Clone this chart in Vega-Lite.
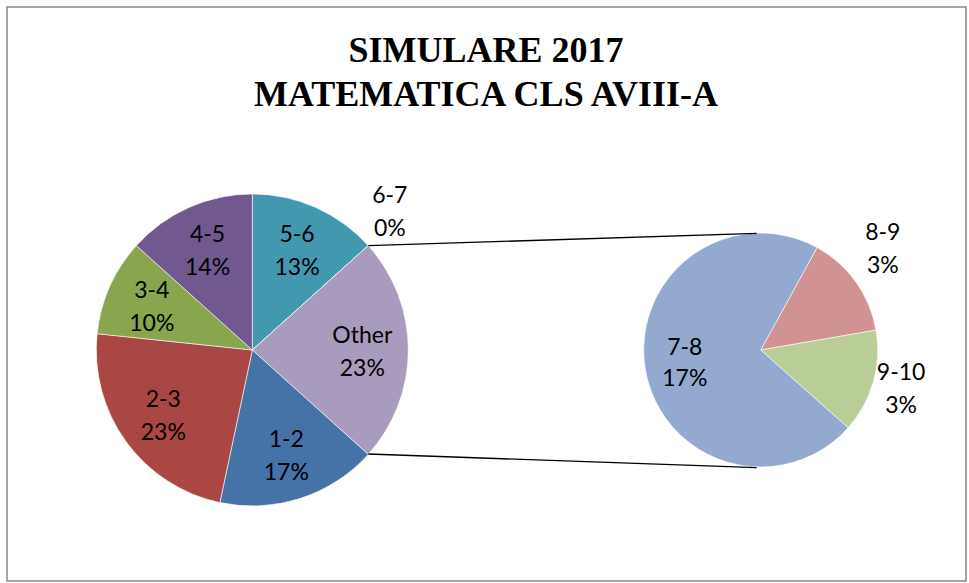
{
  "$schema": "https://vega.github.io/schema/vega-lite/v6.json",
  "width": 959,
  "height": 574,
  "padding": {"left": 7, "top": 7, "right": 3, "bottom": 2},
  "autosize": {"type": "none"},
  "background": "white",
  "config": {
    "view": {"stroke": "#898989", "strokeWidth": 1.5},
    "text": {"font": "Lato", "fontSize": 23, "color": "#000000"}
  },
  "datasets": {
    "slices": [
      {"pie": "main", "range": "5-6", "value": 4, "pct": "13%"},
      {"pie": "main", "range": "6-7", "value": 0, "pct": "0%"},
      {"pie": "main", "range": "Other", "value": 7, "pct": "23%"},
      {"pie": "main", "range": "1-2", "value": 5, "pct": "17%"},
      {"pie": "main", "range": "2-3", "value": 7, "pct": "23%"},
      {"pie": "main", "range": "3-4", "value": 3, "pct": "10%"},
      {"pie": "main", "range": "4-5", "value": 4, "pct": "14%"},
      {"pie": "sub", "range": "8-9", "value": 1, "pct": "3%"},
      {"pie": "sub", "range": "9-10", "value": 1, "pct": "3%"},
      {"pie": "sub", "range": "7-8", "value": 5, "pct": "17%"}
    ],
    "one": [{"k": 1}]
  },
  "resolve": {"scale": {"theta": "independent"}},
  "layer": [
    {
      "data": {"name": "slices"},
      "transform": [{"window": [{"op": "row_number", "as": "idx"}]}, {"filter": "datum.pie === 'main'"}],
      "mark": {"type": "arc", "outerRadius": 156, "stroke": "#ffffff", "strokeWidth": 0.6},
      "encoding": {
        "x": {"datum": 245.3, "scale": {"domain": [0, 959], "nice": false, "zero": false}, "axis": null},
        "y": {"datum": 343, "scale": {"domain": [0, 574], "nice": false, "zero": false, "reverse": true}, "axis": null},
        "theta": {"field": "value", "type": "quantitative", "stack": true},
        "order": {"field": "idx", "type": "quantitative"},
        "color": {"field": "range", "type": "nominal", "legend": null,
          "scale": {"domain": ["1-2", "2-3", "3-4", "4-5", "5-6", "6-7", "Other", "7-8", "8-9", "9-10"],
                    "range": ["#4572A7", "#AA4643", "#89A54E", "#71588F", "#4198AF", "#DB843D", "#A99BBD", "#93A9CF", "#D19392", "#B9CD96"]}}
      }
    },
    {
      "data": {"name": "slices"},
      "transform": [{"window": [{"op": "row_number", "as": "idx"}]}, {"filter": "datum.pie === 'sub'"}],
      "mark": {"type": "arc", "outerRadius": 117, "stroke": "#ffffff", "strokeWidth": 0.6},
      "encoding": {
        "x": {"datum": 753.7, "scale": {"domain": [0, 959], "nice": false, "zero": false}, "axis": null},
        "y": {"datum": 343, "scale": {"domain": [0, 574], "nice": false, "zero": false, "reverse": true}, "axis": null},
        "theta": {"field": "value", "type": "quantitative", "stack": true, "scale": {"range": [0.5027, 6.7859]}},
        "order": {"field": "idx", "type": "quantitative"},
        "color": {"field": "range", "type": "nominal", "legend": null}
      }
    },
    {
      "data": {"name": "one"},
      "mark": {"type": "rule", "color": "#000000", "strokeWidth": 1.3},
      "encoding": {
        "x": {"datum": 361.3}, "y": {"datum": 238.7},
        "x2": {"datum": 749.7}, "y2": {"datum": 226.3}
      }
    },
    {
      "data": {"name": "one"},
      "mark": {"type": "rule", "color": "#000000", "strokeWidth": 1.3},
      "encoding": {
        "x": {"datum": 361.3}, "y": {"datum": 447},
        "x2": {"datum": 749.7}, "y2": {"datum": 460.7}
      }
    },
    {
      "data": {"name": "slices"},
      "transform": [{"window": [{"op": "row_number", "as": "idx"}]}, {"filter": "datum.pie === 'main'"}],
      "mark": {"type": "text", "radius": 110, "dy": -14.5},
      "encoding": {
        "x": {"datum": 245.3}, "y": {"datum": 343},
        "theta": {"field": "value", "type": "quantitative", "stack": true},
        "order": {"field": "idx", "type": "quantitative"},
        "text": {"condition": {"test": "datum.range !== '6-7'", "field": "range", "type": "nominal"}, "value": ""}
      }
    },
    {
      "data": {"name": "slices"},
      "transform": [{"window": [{"op": "row_number", "as": "idx"}]}, {"filter": "datum.pie === 'main'"}],
      "mark": {"type": "text", "radius": 110, "dy": 18.5},
      "encoding": {
        "x": {"datum": 245.3}, "y": {"datum": 343},
        "theta": {"field": "value", "type": "quantitative", "stack": true},
        "order": {"field": "idx", "type": "quantitative"},
        "text": {"condition": {"test": "datum.range !== '6-7'", "field": "pct", "type": "nominal"}, "value": ""}
      }
    },
    {
      "data": {"name": "slices"},
      "transform": [{"window": [{"op": "row_number", "as": "idx"}]}, {"filter": "datum.pie === 'main'"}],
      "mark": {"type": "text", "radius": 185, "dy": -30},
      "encoding": {
        "x": {"datum": 245.3}, "y": {"datum": 343},
        "theta": {"field": "value", "type": "quantitative", "stack": true},
        "order": {"field": "idx", "type": "quantitative"},
        "text": {"condition": {"test": "datum.range === '6-7'", "field": "range", "type": "nominal"}, "value": ""}
      }
    },
    {
      "data": {"name": "slices"},
      "transform": [{"window": [{"op": "row_number", "as": "idx"}]}, {"filter": "datum.pie === 'main'"}],
      "mark": {"type": "text", "radius": 185, "dy": 3},
      "encoding": {
        "x": {"datum": 245.3}, "y": {"datum": 343},
        "theta": {"field": "value", "type": "quantitative", "stack": true},
        "order": {"field": "idx", "type": "quantitative"},
        "text": {"condition": {"test": "datum.range === '6-7'", "field": "pct", "type": "nominal"}, "value": ""}
      }
    },
    {
      "data": {"name": "slices"},
      "transform": [{"window": [{"op": "row_number", "as": "idx"}]}, {"filter": "datum.pie === 'sub'"}],
      "mark": {"type": "text", "radius": 77, "dy": -15},
      "encoding": {
        "x": {"datum": 753.7}, "y": {"datum": 343},
        "theta": {"field": "value", "type": "quantitative", "stack": true, "scale": {"range": [0.5027, 6.7859]}},
        "order": {"field": "idx", "type": "quantitative"},
        "text": {"condition": {"test": "datum.range === '7-8'", "field": "range", "type": "nominal"}, "value": ""}
      }
    },
    {
      "data": {"name": "slices"},
      "transform": [{"window": [{"op": "row_number", "as": "idx"}]}, {"filter": "datum.pie === 'sub'"}],
      "mark": {"type": "text", "radius": 77, "dy": 16},
      "encoding": {
        "x": {"datum": 753.7}, "y": {"datum": 343},
        "theta": {"field": "value", "type": "quantitative", "stack": true, "scale": {"range": [0.5027, 6.7859]}},
        "order": {"field": "idx", "type": "quantitative"},
        "text": {"condition": {"test": "datum.range === '7-8'", "field": "pct", "type": "nominal"}, "value": ""}
      }
    },
    {
      "data": {"name": "slices"},
      "transform": [{"window": [{"op": "row_number", "as": "idx"}]}, {"filter": "datum.pie === 'sub'"}],
      "mark": {"type": "text", "radius": 150, "dy": -29.5},
      "encoding": {
        "x": {"datum": 753.7}, "y": {"datum": 343},
        "theta": {"field": "value", "type": "quantitative", "stack": true, "scale": {"range": [0.5027, 6.7859]}},
        "order": {"field": "idx", "type": "quantitative"},
        "text": {"condition": {"test": "datum.range === '8-9'", "field": "range", "type": "nominal"}, "value": ""}
      }
    },
    {
      "data": {"name": "slices"},
      "transform": [{"window": [{"op": "row_number", "as": "idx"}]}, {"filter": "datum.pie === 'sub'"}],
      "mark": {"type": "text", "radius": 150, "dy": 3.5},
      "encoding": {
        "x": {"datum": 753.7}, "y": {"datum": 343},
        "theta": {"field": "value", "type": "quantitative", "stack": true, "scale": {"range": [0.5027, 6.7859]}},
        "order": {"field": "idx", "type": "quantitative"},
        "text": {"condition": {"test": "datum.range === '8-9'", "field": "pct", "type": "nominal"}, "value": ""}
      }
    },
    {
      "data": {"name": "slices"},
      "transform": [{"window": [{"op": "row_number", "as": "idx"}]}, {"filter": "datum.pie === 'sub'"}],
      "mark": {"type": "text", "radius": 146, "dy": -17},
      "encoding": {
        "x": {"datum": 753.7}, "y": {"datum": 343},
        "theta": {"field": "value", "type": "quantitative", "stack": true, "scale": {"range": [0.5027, 6.7859]}},
        "order": {"field": "idx", "type": "quantitative"},
        "text": {"condition": {"test": "datum.range === '9-10'", "field": "range", "type": "nominal"}, "value": ""}
      }
    },
    {
      "data": {"name": "slices"},
      "transform": [{"window": [{"op": "row_number", "as": "idx"}]}, {"filter": "datum.pie === 'sub'"}],
      "mark": {"type": "text", "radius": 146, "dy": 16},
      "encoding": {
        "x": {"datum": 753.7}, "y": {"datum": 343},
        "theta": {"field": "value", "type": "quantitative", "stack": true, "scale": {"range": [0.5027, 6.7859]}},
        "order": {"field": "idx", "type": "quantitative"},
        "text": {"condition": {"test": "datum.range === '9-10'", "field": "pct", "type": "nominal"}, "value": ""}
      }
    },
    {
      "data": {"name": "one"},
      "mark": {"type": "text", "text": ["SIMULARE 2017", "MATEMATICA CLS AVIII-A"], "font": "Liberation Serif", "fontSize": 36, "fontWeight": "bold", "lineHeight": 44, "align": "center", "baseline": "alphabetic"},
      "encoding": {
        "x": {"datum": 479}, "y": {"datum": 55.3}
      }
    }
  ]
}
